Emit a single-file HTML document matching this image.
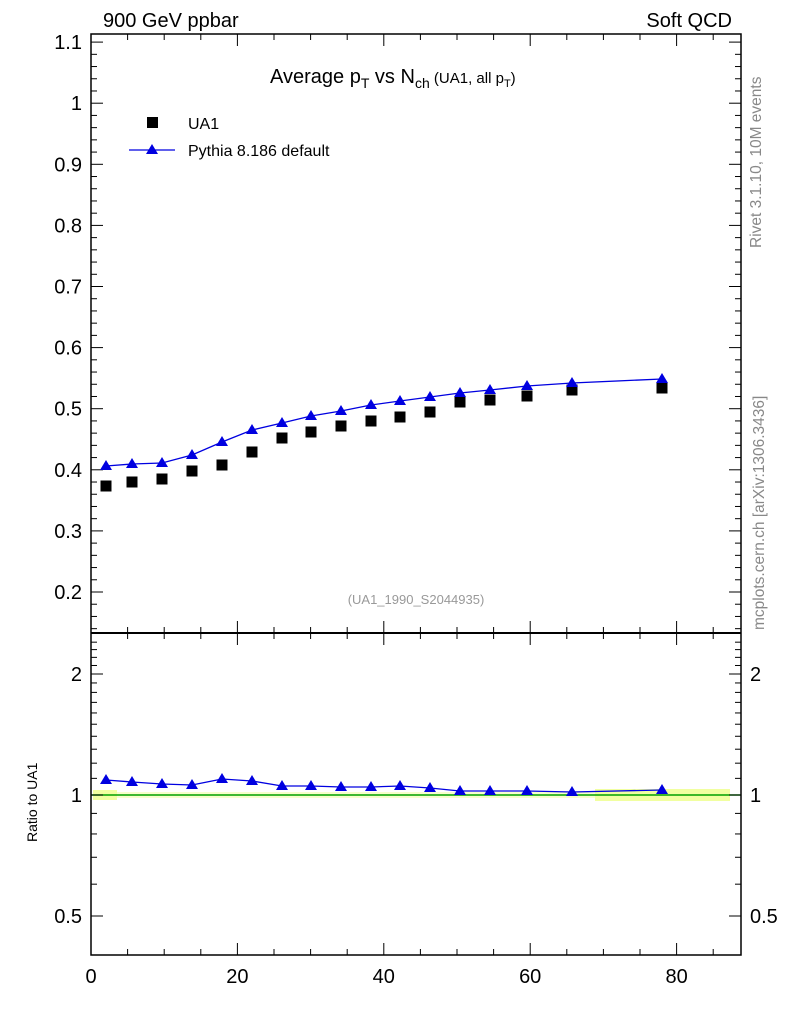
<!DOCTYPE html>
<html><head><meta charset="utf-8"><style>
html,body{margin:0;padding:0;background:#fff;}
svg{display:block;font-family:"Liberation Sans",sans-serif;}
</style></head><body>
<svg id="s" width="786" height="1024" xmlns="http://www.w3.org/2000/svg">
<text x="103" y="27" font-size="20">900 GeV ppbar</text>
<text x="732" y="27" font-size="20" text-anchor="end">Soft QCD</text>
<text x="270" y="83" font-size="20">Average p<tspan font-size="14" dy="5">T</tspan><tspan dy="-5"> vs N</tspan><tspan font-size="14" dy="5">ch</tspan><tspan font-size="15" dy="-5"> (UA1, all p</tspan><tspan font-size="11" dy="4">T</tspan><tspan font-size="15" dy="-4">)</tspan></text>
<rect x="147" y="117" width="11" height="11" fill="#000"/>
<text x="188" y="129" font-size="16">UA1</text>
<line x1="129" y1="150" x2="175" y2="150" stroke="#0000e0" stroke-width="1.3"/>
<polygon points="152,144 146,154 158,154" fill="#0000e0"/>
<text x="188" y="156" font-size="16">Pythia 8.186 default</text>
<text x="416" y="604" font-size="13" fill="#999" text-anchor="middle">(UA1_1990_S2044935)</text>
<text transform="translate(761,248) rotate(-90)" font-size="15.5" fill="#888">Rivet 3.1.10,  10M events</text>
<text transform="translate(764,630) rotate(-90)" font-size="15.5" fill="#888">mcplots.cern.ch [arXiv:1306.3436]</text>
<text transform="translate(37,842) rotate(-90)" font-size="14">Ratio to UA1</text>
<g id="g"></g>
</svg>
<script>
var g=document.getElementById('g'),h='';
var L=91,R=741,T=34,M=633,B=955;
function X(v){return L+v*7.32;}
function Y(v){return 592-(v-0.2)*611;}
function RY(r){return 795-121*Math.log2(r);}
function ln(a,b,c,d,w){h+='<line x1="'+a+'" y1="'+b+'" x2="'+c+'" y2="'+d+'" stroke="#000" stroke-width="'+(w||1)+'"/>';}
function tx(x,y,s,a){h+='<text x="'+x+'" y="'+y+'" font-size="20" text-anchor="'+a+'">'+s+'</text>';}
h+='<rect x="93" y="790" width="24" height="10" fill="#eeff88" opacity="0.8"/>';
h+='<rect x="595" y="789" width="135" height="12" fill="#eeff88" opacity="0.8"/>';
h+='<rect x="117" y="792" width="478" height="6" fill="#f4ffaa" opacity="0.6"/>';
h+='<line x1="91" y1="795" x2="741" y2="795" stroke="#00a000" stroke-width="1.5"/>';
h+='<rect x="91" y="34" width="650" height="921" fill="none" stroke="#000" stroke-width="1.5"/>';
ln(L,M,R,M,2);
for(var i=6;i<=56;i++){var v=i/50,y=Y(v);if(y<T||y>M-1)continue;var maj=i%5==0;var l=maj?12:6;ln(L,y,L+l,y);ln(R,y,R-l,y);
 if(maj){var s=(i==50)?'1':v.toFixed(1);tx(82,y+7,s,'end');}}
for(var v=0;v<=85;v+=5){var x=X(v),l=v%20==0?12:6;ln(x,M,x,M-l);ln(x,M,x,M+l);ln(x,B,x,B-l);ln(x,T,x,T+l);if(v%20==0)tx(x,983,v,'middle');}
var rt=[0.4,0.5,0.6,0.7,0.8,0.9,1,1.1,1.2,1.3,1.4,1.5,1.6,1.7,1.8,1.9,2,2.1,2.2,2.3,2.4];
rt.forEach(function(r){var y=RY(r);if(y<M+2||y>B-1)return;var maj=(r==0.5||r==1||r==2);var l=maj?12:6;ln(L,y,L+l,y);ln(R,y,R-l,y);
 if(maj){tx(82,y+7,r==0.5?'0.5':r,'end');tx(750,y+7,r==0.5?'0.5':r,'start');}});
var px=[106,132,162,192,222,252,282,311,341,371,400,430,460,490,527,572,662];
var ua=[486,482,479,471,465,452,438,432,426,421,417,412,402,400,396,390,388];
var py=[466,464,463,455,442,430,423,416,411,405,401,397,393,390,386,383,379];
var ry=[780,782,784,785,779,781,786,786,787,787,786,788,791,791,791,792,790];
ua.forEach(function(y,i){h+='<rect x="'+(px[i]-5.5)+'" y="'+(y-5.5)+'" width="11" height="11" fill="#000"/>';});
function series(ys){h+='<polyline fill="none" stroke="#0000e0" stroke-width="1.3" points="'+px.map(function(x,i){return x+','+ys[i]}).join(' ')+'"/>';
 ys.forEach(function(y,i){var x=px[i];h+='<polygon points="'+x+','+(y-6)+' '+(x-6)+','+(y+4)+' '+(x+6)+','+(y+4)+'" fill="#0000e0"/>';});}
series(py);series(ry);
g.innerHTML=h;
</script>
</body></html>
